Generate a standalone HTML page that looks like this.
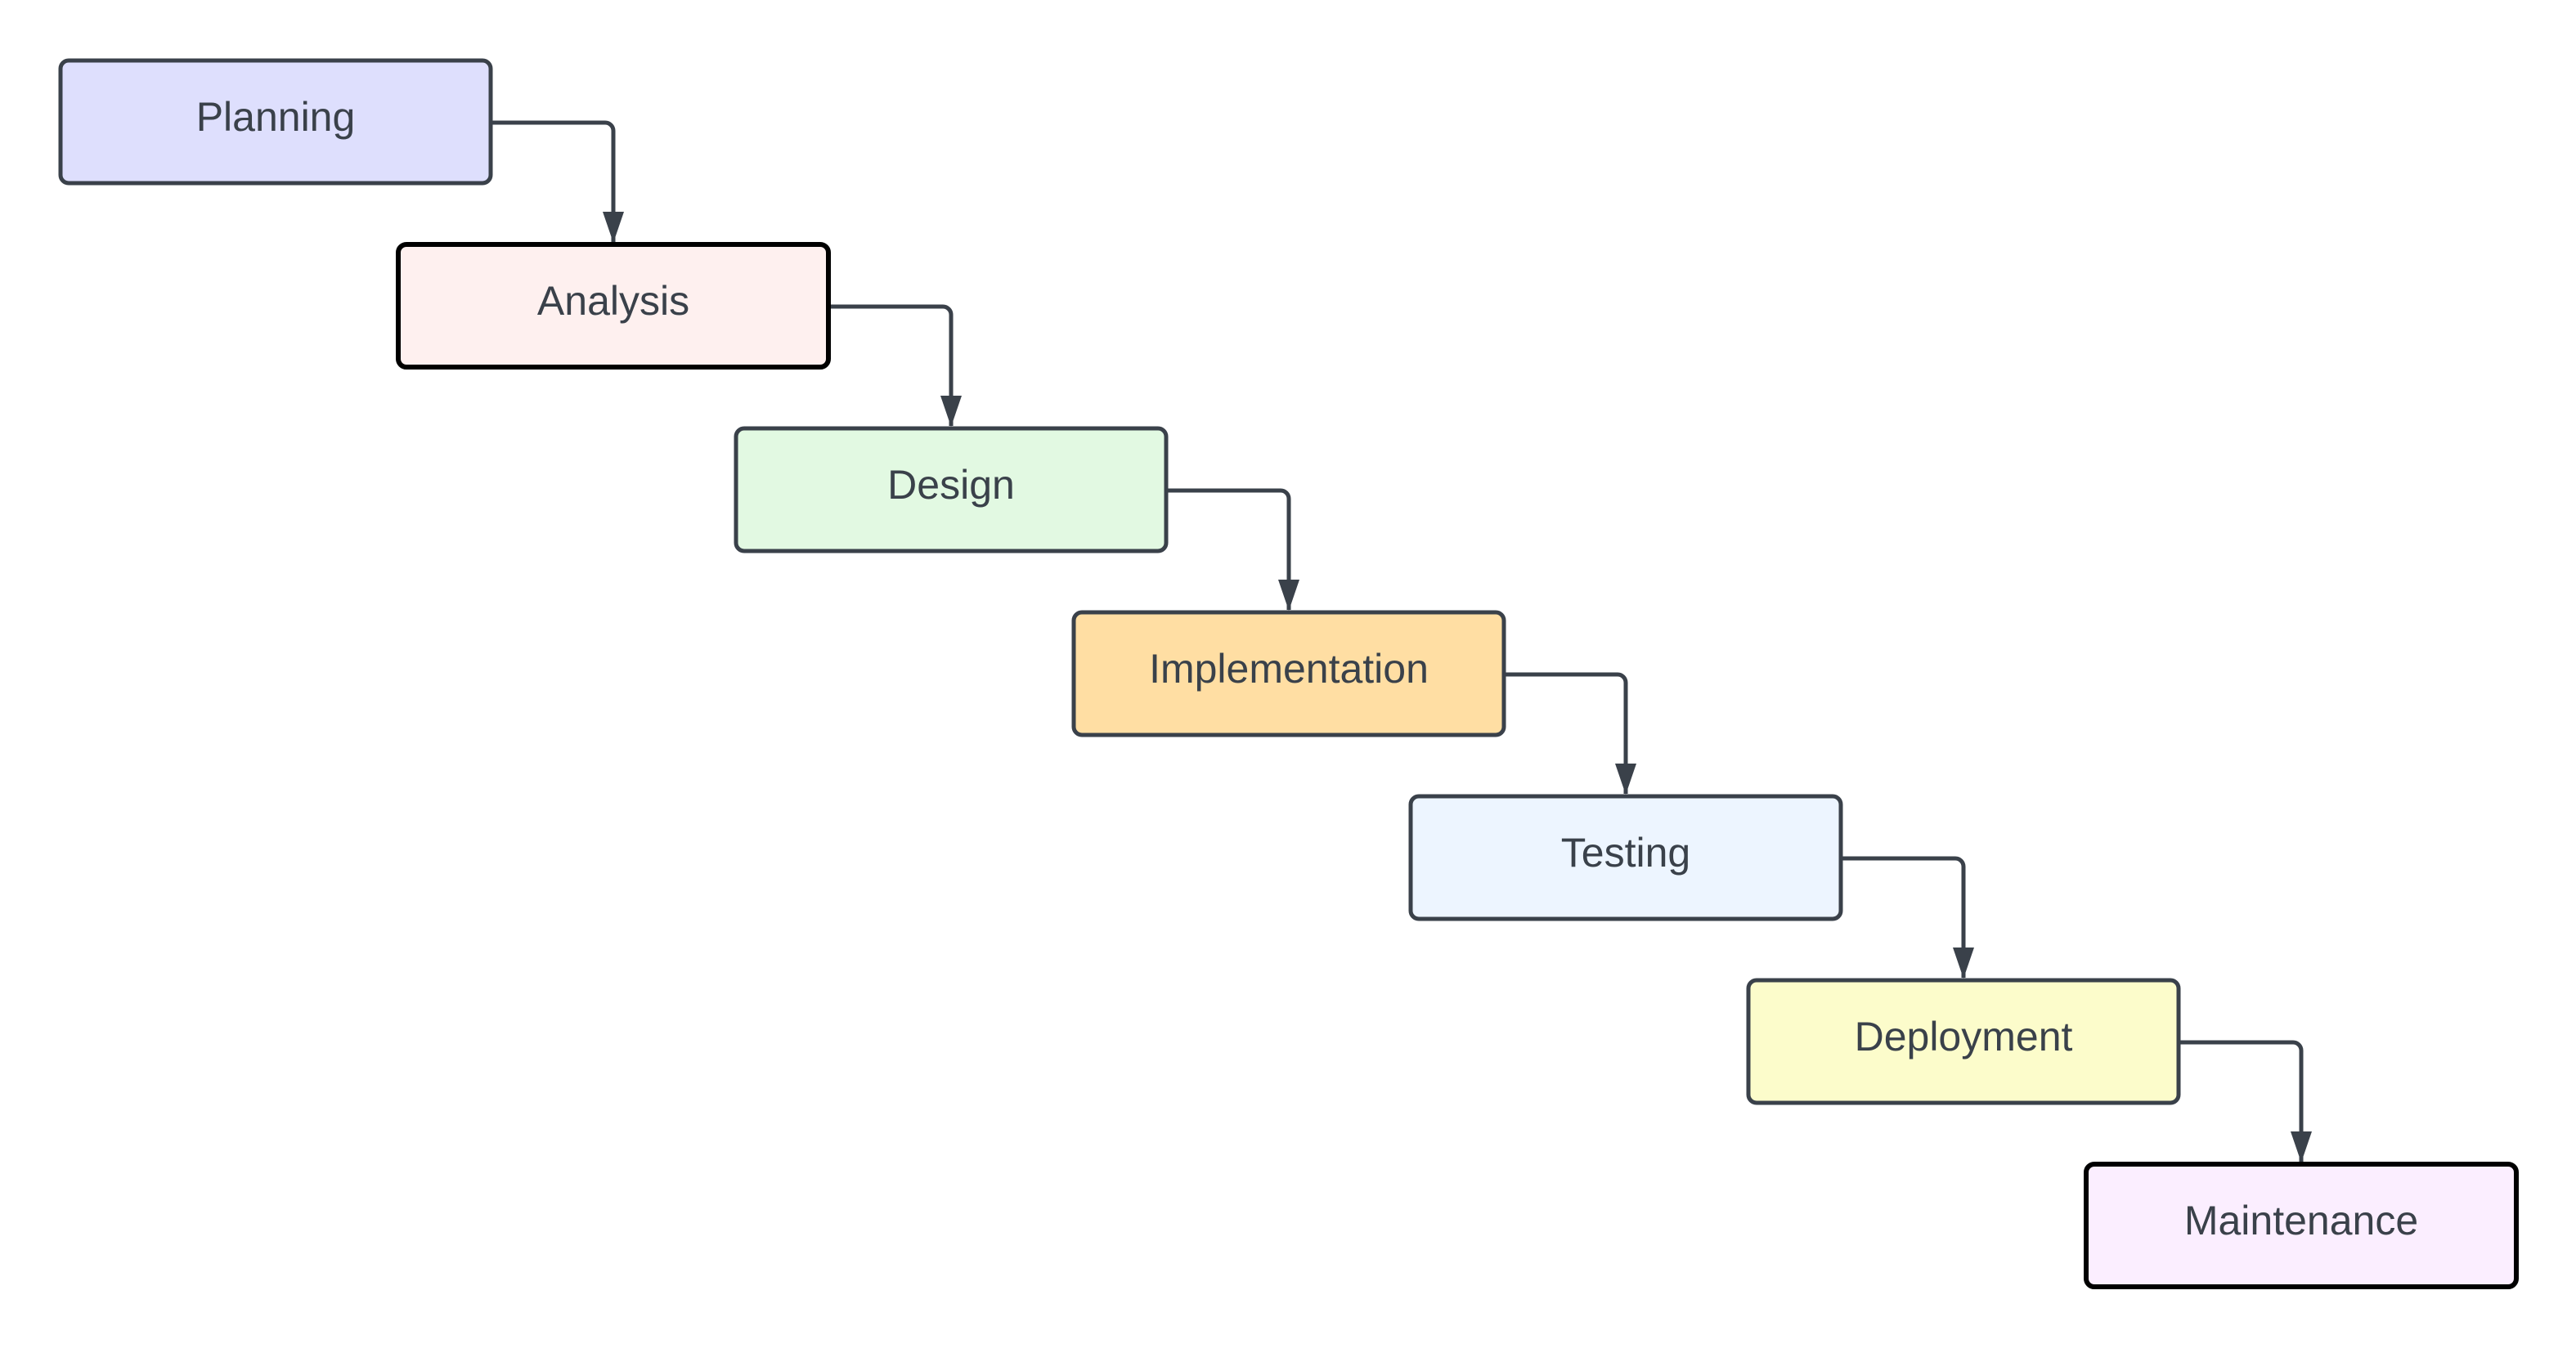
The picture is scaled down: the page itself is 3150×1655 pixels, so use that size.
<!DOCTYPE html>
<html><head><meta charset="utf-8"><style>
html,body{margin:0;padding:0;background:#fff;}
body{width:3150px;height:1650px;overflow:hidden;}
text{font-family:"Liberation Sans",sans-serif;font-size:50px;fill:#3a414a;}
</style></head><body>
<svg width="3150" height="1650" viewBox="0 0 3150 1650" xmlns="http://www.w3.org/2000/svg">
<defs><marker id="a" markerWidth="26" markerHeight="38" refX="13" refY="37" orient="0" markerUnits="userSpaceOnUse"><path d="M0,0 L26,0 L13,38 Z" fill="#3a414a"/></marker></defs>
<g fill="none" stroke="#3a414a" stroke-width="5">
<path d="M602,150 H740 a10,10 0 0 1 10,10 V296" marker-end="url(#a)"/>
<path d="M1015,375 H1153 a10,10 0 0 1 10,10 V521" marker-end="url(#a)"/>
<path d="M1428,600 H1566 a10,10 0 0 1 10,10 V746" marker-end="url(#a)"/>
<path d="M1840,825 H1978 a10,10 0 0 1 10,10 V971" marker-end="url(#a)"/>
<path d="M2253,1050 H2391 a10,10 0 0 1 10,10 V1196" marker-end="url(#a)"/>
<path d="M2666,1275 H2804 a10,10 0 0 1 10,10 V1421" marker-end="url(#a)"/>
</g>
<g stroke-width="5">
<rect x="74" y="74" width="526" height="150" rx="10" fill="#dedffd" stroke="#3a414a"/>
<rect x="487" y="299" width="526" height="150" rx="10" fill="#fef0ef" stroke="#000" stroke-width="6"/>
<rect x="900" y="524" width="526" height="150" rx="10" fill="#e2f9e2" stroke="#3a414a"/>
<rect x="1313" y="749" width="526" height="150" rx="10" fill="#ffdea3" stroke="#3a414a"/>
<rect x="1725" y="974" width="526" height="150" rx="10" fill="#edf5ff" stroke="#3a414a"/>
<rect x="2138" y="1199" width="526" height="150" rx="10" fill="#fcfccb" stroke="#3a414a"/>
<rect x="2551" y="1424" width="526" height="150" rx="10" fill="#fbeeff" stroke="#000" stroke-width="6"/>
</g>
<g text-anchor="middle">
<text x="337" y="160">Planning</text>
<text x="750" y="385">Analysis</text>
<text x="1163" y="610">Design</text>
<text x="1576" y="835">Implementation</text>
<text x="1988" y="1060">Testing</text>
<text x="2401" y="1285">Deployment</text>
<text x="2814" y="1510">Maintenance</text>
</g>
</svg>
</body></html>
